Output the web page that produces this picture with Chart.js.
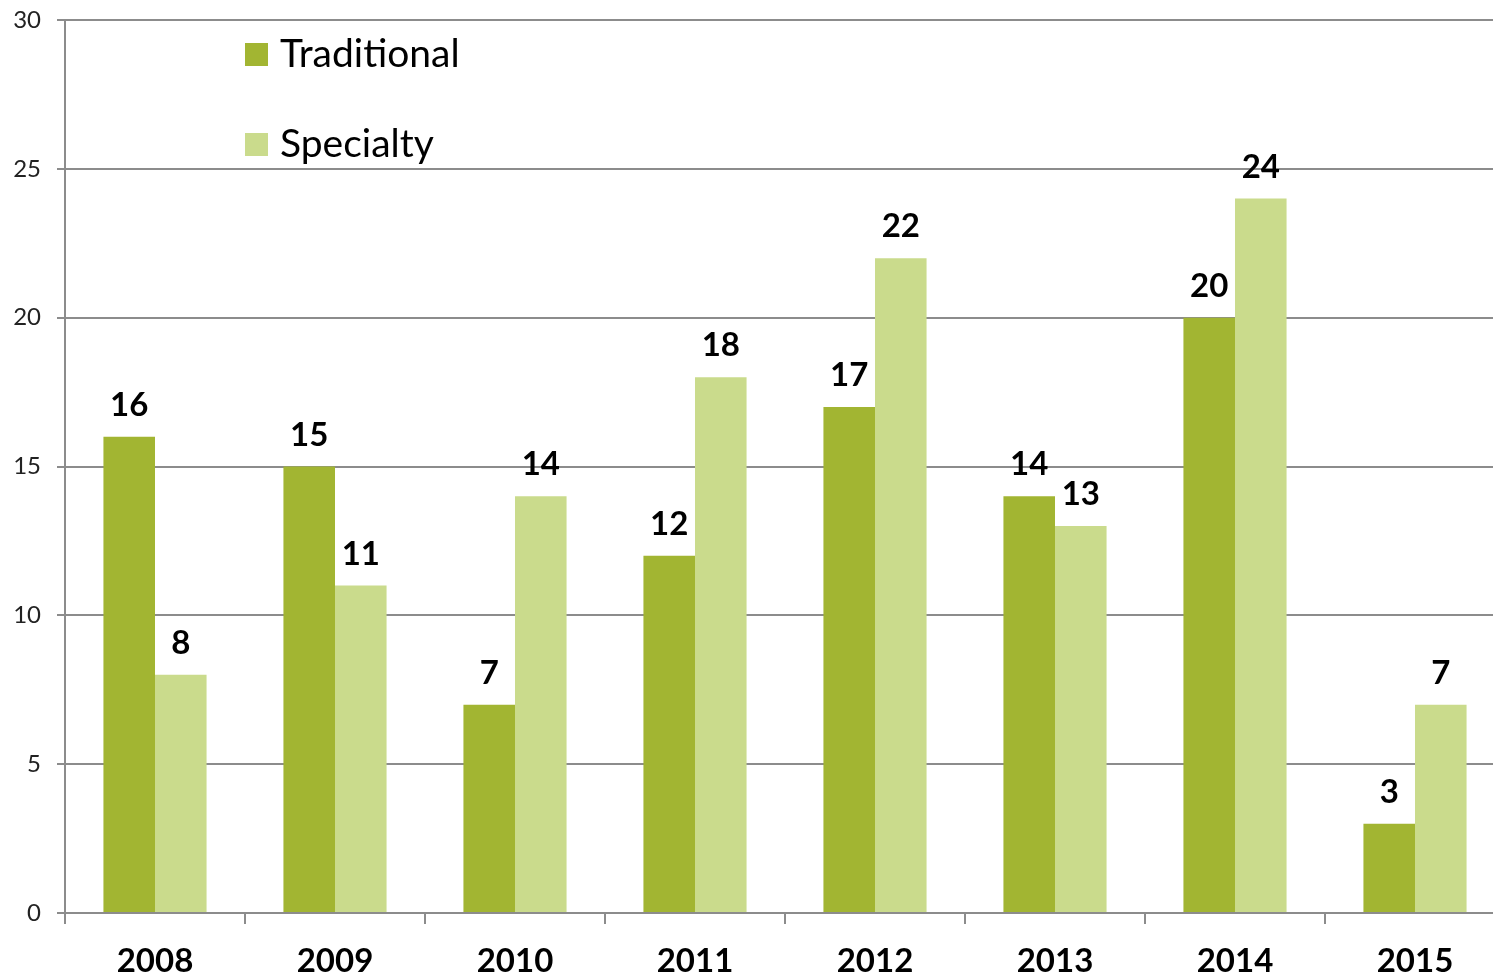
<!DOCTYPE html>
<html>
<head>
<meta charset="utf-8">
<script src="https://cdn.jsdelivr.net/npm/chart.js@4"></script>
<style>
  html, body { margin: 0; padding: 0; overflow: hidden; background: #fff; }
  #wrap { width: 1510px; height: 979px; }
</style>
</head>
<body>
<div id="wrap"><canvas id="myBarChart"></canvas></div>
<script>
// values
var years = ["2008", "2009", "2010", "2011", "2012", "2013", "2014", "2015"];
var traditional = [16, 15, 7, 12, 17, 14, 20, 3];
var specialty = [8, 11, 14, 18, 22, 13, 24, 7];
var yTicks = [0, 5, 10, 15, 20, 25, 30];

var FONT = "Lato, 'Open Sans', sans-serif";
var GRID = "#8c8c8c";

// bold numbers on top of each bar
var valueLabels = {
  id: "valueLabels",
  afterDatasetsDraw: function(chart) {
    var ctx = chart.ctx;
    ctx.save();
    ctx.font = "bold 33px " + FONT;
    ctx.fillStyle = "#000";
    ctx.textAlign = "center";
    ctx.textBaseline = "alphabetic";
    chart.data.datasets.forEach(function(ds, i) {
      chart.getDatasetMeta(i).data.forEach(function(bar, j) {
        ctx.fillText(ds.data[j], bar.x, bar.y - 21);
      });
    });
    ctx.restore();
  }
};

// legend drawn inside the plot, stacked with big gaps
var innerLegend = {
  id: "innerLegend",
  afterDraw: function(chart) {
    var ctx = chart.ctx;
    ctx.save();
    ctx.font = "39px " + FONT;
    ctx.textBaseline = "alphabetic";
    ctx.textAlign = "left";
    chart.data.datasets.forEach(function(ds, i) {
      var y = 43 + i * 90;
      ctx.fillStyle = ds.backgroundColor;
      ctx.fillRect(245, y, 23, 23);
      ctx.fillStyle = "#000";
      ctx.fillText(ds.label, 280, y + 24);
    });
    ctx.restore();
  }
};

var chartdata = {
  labels: years,
  datasets: [
    {
      label: "Traditional",
      backgroundColor: "#a2b532",
      data: traditional
    },
    {
      label: "Specialty",
      backgroundColor: "#cadb8c",
      data: specialty
    }
  ]
};

var options = {
  responsive: true,
  maintainAspectRatio: false,
  animation: false,
  layout: { padding: { top: 20, right: 5, left: 0, bottom: 0 } },
  plugins: {
    legend: { display: false },
    tooltip: { enabled: false }
  },
  datasets: {
    bar: { barPercentage: 1.0, categoryPercentage: 0.573 }
  },
  scales: {
    x: {
      grid: {
        offset: true,
        drawOnChartArea: false,
        drawTicks: true,
        tickLength: 11,
        color: GRID,
        lineWidth: 2
      },
      border: { color: GRID, width: 2 },
      ticks: {
        color: "#000",
        font: { family: FONT, size: 33, weight: "bold" },
        padding: 18,
        maxRotation: 0
      },
      afterFit: function(scale) {
        scale.height = 66;
        scale.paddingLeft = 0;
        scale.paddingRight = 0;
      }
    },
    y: {
      min: 0,
      max: 30,
      afterBuildTicks: function(scale) {
        scale.ticks = yTicks.map(function(v) { return { value: v }; });
      },
      grid: {
        color: GRID,
        lineWidth: 2,
        tickLength: 8
      },
      border: { color: GRID, width: 2 },
      ticks: {
        color: "#222",
        font: { family: FONT, size: 24 },
        padding: 16
      },
      afterFit: function(scale) {
        scale.width = 65;
        scale.paddingTop = 0;
        scale.paddingBottom = 0;
      }
    }
  }
};

var ctx = document.getElementById("myBarChart");
var chart = new Chart(ctx, {
  type: "bar",
  data: chartdata,
  options: options,
  plugins: [valueLabels, innerLegend]
});
</script>
</body>
</html>
